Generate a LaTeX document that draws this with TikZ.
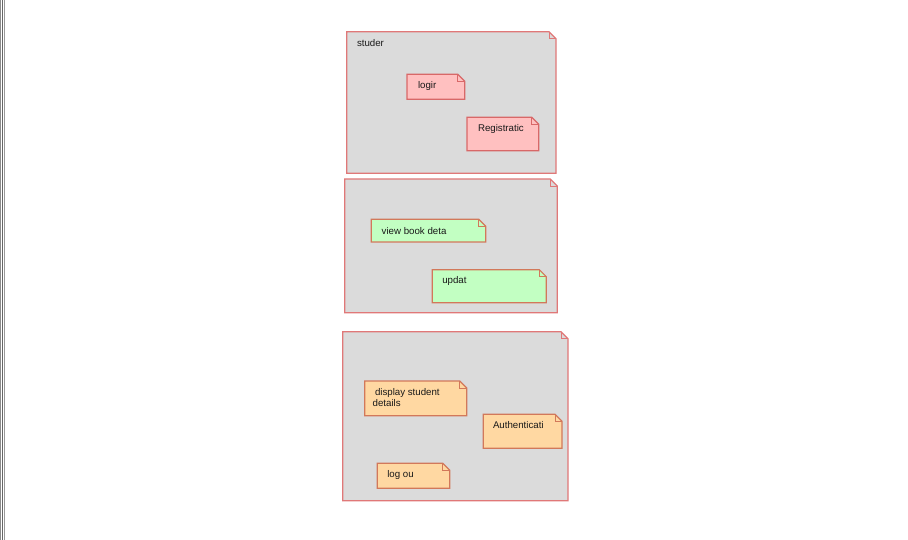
\documentclass[tikz,border=0pt]{standalone}
\usepackage{fontspec}
\setmainfont{Liberation Sans}
\definecolor{pkgfill}{HTML}{DBDBDB}
\definecolor{pkgline}{HTML}{E07878}
\definecolor{pinkfill}{HTML}{FFC0C0}
\definecolor{pinkline}{HTML}{D86868}
\definecolor{greenfill}{HTML}{C2FFC2}
\definecolor{greenline}{HTML}{D2785A}
\definecolor{orangefill}{HTML}{FFD8A2}
\definecolor{orangeline}{HTML}{D2785A}
\newcommand{\foldnote}[4]{%
  \draw[line width=1.2pt,draw=#3,fill=#2,line join=miter]
    (#1.south west) -- (#1.south east) -- ([yshift=-#4]#1.north east)
    -- ([xshift=-#4]#1.north east) -- (#1.north west) -- cycle;
  \draw[line width=0.7pt,draw=#3]
    ([xshift=-#4]#1.north east) -- ([xshift=-#4,yshift=-#4]#1.north east)
    -- ([yshift=-#4]#1.north east);}
\begin{document}
\begin{tikzpicture}[x=1pt,y=-1pt,
  box/.style={draw=none,inner sep=0pt,outer sep=0pt,anchor=north west},
  lbl/.style={inner sep=0pt,outer sep=0pt,font=\fontsize{9.7}{11.5}\selectfont,text=black!90},
  edge/.style={line width=1.2pt}]
\useasboundingbox (0,0) rectangle (908,540);
\fill[white] (0,0) rectangle (908,540);
% left window edge
\coordinate (e1t) at (0.6,0); \coordinate (e1b) at (0.6,540);
\coordinate (e2t) at (2.6,0); \coordinate (e2b) at (2.6,540);
\coordinate (e3t) at (4.6,0); \coordinate (e3b) at (4.6,540);
\draw[edge,black!45] (e1t) -- (e1b);
\draw[edge,black!60] (e2t) -- (e2b);
\draw[edge,black!40] (e3t) -- (e3b);

% package 1
\node[box,minimum width=209.3pt,minimum height=141.6pt] (pA) at (346.7,31.7) {};
\foldnote{pA}{pkgfill}{pkgline}{7pt}
\node[lbl,anchor=base west] (pAt) at (357,47) {studer};
\node[box,minimum width=57.7pt,minimum height=25pt] (nLogin) at (407,74.3) {};
\foldnote{nLogin}{pinkfill}{pinkline}{7pt}
\node[lbl,anchor=base west] (tLogin) at (418,89) {logir};
\node[box,minimum width=71.7pt,minimum height=33.4pt] (nReg) at (467,117.3) {};
\foldnote{nReg}{pinkfill}{pinkline}{7pt}
\node[lbl,anchor=base west] (tReg) at (478,132) {Registratic};

% package 2
\node[box,minimum width=212.6pt,minimum height=133.7pt] (pB) at (344.7,179) {};
\foldnote{pB}{pkgfill}{pkgline}{7pt}
\node[box,minimum width=114.4pt,minimum height=22.7pt] (nView) at (371.3,219.3) {};
\foldnote{nView}{greenfill}{greenline}{7pt}
\node[lbl,anchor=base west] (tView) at (381.7,234.5) {view book deta};
\node[box,minimum width=114pt,minimum height=33pt] (nUpd) at (432.3,269.7) {};
\foldnote{nUpd}{greenfill}{greenline}{7pt}
\node[lbl,anchor=base west] (tUpd) at (442.3,283.5) {updat};

% package 3
\node[box,minimum width=225.3pt,minimum height=169pt] (pC) at (342.7,331.7) {};
\foldnote{pC}{pkgfill}{pkgline}{7pt}
\node[box,minimum width=102pt,minimum height=34.7pt] (nDisp) at (364.7,381) {};
\foldnote{nDisp}{orangefill}{orangeline}{7pt}
\node[lbl,anchor=base west] (tDisp1) at (375,395) {display student};
\node[lbl,anchor=base west] (tDisp2) at (372.7,406.3) {details};
\node[box,minimum width=78.7pt,minimum height=34pt] (nAuth) at (483.3,414.3) {};
\foldnote{nAuth}{orangefill}{orangeline}{7pt}
\node[lbl,anchor=base west] (tAuth) at (493,428) {Authenticati};
\node[box,minimum width=72.4pt,minimum height=25pt] (nOut) at (377.3,463.3) {};
\foldnote{nOut}{orangefill}{orangeline}{7pt}
\node[lbl,anchor=base west] (tOut) at (387.3,477.5) {log ou};
\end{tikzpicture}
\end{document}
